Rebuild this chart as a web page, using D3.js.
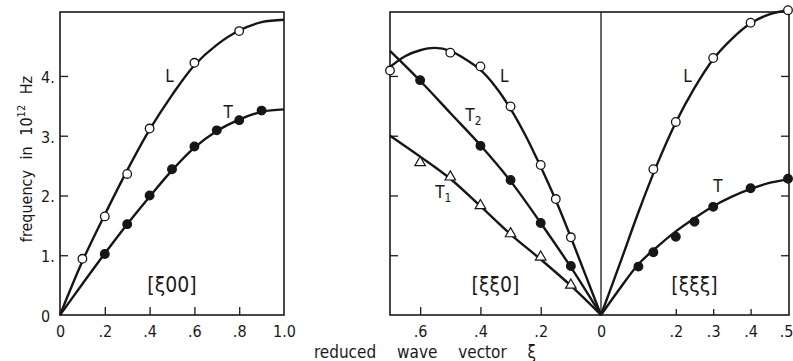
<!DOCTYPE html>
<html>
<head>
<meta charset="utf-8">
<script src="https://cdn.jsdelivr.net/npm/d3@7"></script>
<style>
  body { margin: 0; background: #fff; }
  text { font-family: "DejaVu Sans Condensed", "Liberation Sans Narrow", "Liberation Sans", sans-serif; fill: #1a1a1a; }
</style>
</head>
<body>
<svg id="canvas"></svg>
<script>
// ---- data (frequency in 10^12 Hz) ----
// [xi 0 0]
let l100Xi = [0.1, 0.2, 0.3, 0.4, 0.6, 0.8];
let l100F  = [0.94, 1.65, 2.36, 3.12, 4.22, 4.75];
let t100Xi = [0.2, 0.3, 0.4, 0.5, 0.6, 0.7, 0.8, 0.9];
let t100F  = [1.02, 1.52, 2.0, 2.44, 2.82, 3.09, 3.26, 3.42];
let l100Curve = [[0,0],[0.1,0.9],[0.2,1.68],[0.3,2.42],[0.4,3.1],[0.5,3.68],[0.6,4.18],[0.7,4.52],[0.8,4.76],[0.9,4.9],[1.0,4.94]];
let t100Curve = [[0,0],[0.1,0.52],[0.2,1.03],[0.3,1.52],[0.4,1.98],[0.5,2.42],[0.6,2.8],[0.7,3.08],[0.8,3.27],[0.9,3.4],[1.0,3.44]];

// [xi xi 0]
let l110Xi = [0.7, 0.5, 0.4, 0.3, 0.2, 0.15, 0.1];
let l110F  = [4.09, 4.39, 4.16, 3.49, 2.51, 1.94, 1.3];
let t2110Xi = [0.6, 0.4, 0.3, 0.2, 0.1];
let t2110F  = [3.93, 2.83, 2.26, 1.54, 0.82];
let t1110Xi = [0.6, 0.5, 0.4, 0.3, 0.2, 0.1];
let t1110F  = [2.55, 2.31, 1.83, 1.36, 0.97, 0.5];
let l110Curve  = [[0.7,4.15],[0.65,4.33],[0.6,4.43],[0.55,4.47],[0.5,4.42],[0.45,4.28],[0.4,4.1],[0.35,3.82],[0.3,3.45],[0.25,3.0],[0.2,2.48],[0.15,1.92],[0.1,1.3],[0.05,0.65],[0,0]];
let t2110Curve = [[0.7,4.42],[0.6,3.92],[0.5,3.38],[0.4,2.84],[0.3,2.24],[0.2,1.54],[0.1,0.8],[0,0]];
let t1110Curve = [[0.7,3.0],[0.6,2.65],[0.5,2.28],[0.4,1.82],[0.3,1.35],[0.2,0.93],[0.1,0.49],[0,0]];

// [xi xi xi]
let l111Xi = [0.14, 0.2, 0.3, 0.4, 0.5];
let l111F  = [2.44, 3.23, 4.3, 4.89, 5.1];
let t111Xi = [0.1, 0.14, 0.2, 0.25, 0.3, 0.4, 0.5];
let t111F  = [0.81, 1.05, 1.31, 1.56, 1.81, 2.12, 2.28];
let l111Curve = [[0,0],[0.05,0.85],[0.1,1.72],[0.15,2.52],[0.2,3.22],[0.25,3.8],[0.3,4.28],[0.35,4.62],[0.4,4.88],[0.45,5.03],[0.5,5.1]];
let t111Curve = [[0,0],[0.05,0.44],[0.1,0.85],[0.15,1.14],[0.2,1.4],[0.25,1.62],[0.3,1.82],[0.35,1.98],[0.4,2.11],[0.45,2.21],[0.5,2.27]];

// tick labels
let yTicks = [0, 1, 2, 3, 4];
let x100Ticks = [0, 0.2, 0.4, 0.6, 0.8, 1.0];
let x110Ticks = [0.6, 0.4, 0.2];
let x111Ticks = [0, 0.2, 0.3, 0.4, 0.5];

let width = 793;
let height = 361;
let topY = 12;
let bottomY = 315;

let svg = d3.select('#canvas')
svg.attr('width', width).attr('height', height);

let yScale = d3.scaleLinear().domain([0, 5.07]).range([bottomY, topY]);
let xA = d3.scaleLinear().domain([0, 1]).range([60, 284]);
let xB = d3.scaleLinear().domain([0.7, 0]).range([390, 601]);
let xC = d3.scaleLinear().domain([0, 0.5]).range([601, 788]);

let fmt = (d) => d === 0 ? '0' : d === 1 ? '1.0' : '.' + Math.round(d * 10);

// boxes
let boxes = [[60, 284], [390, 789]];
boxes.forEach(b => {
  svg.append('rect')
     .attr('x', b[0]).attr('y', topY)
     .attr('width', b[1] - b[0]).attr('height', bottomY - topY)
     .attr('fill', 'none').attr('stroke', '#1a1a1a').attr('stroke-width', 1.6);
});
svg.append('line').attr('x1', xB(0)).attr('x2', xB(0)).attr('y1', topY).attr('y2', bottomY)
   .attr('stroke', '#1a1a1a').attr('stroke-width', 1.3);

// inner tick marks
let tickAxis = (axis, tx, ty, size) => {
  let g = svg.append('g').attr('transform', 'translate(' + tx + ',' + ty + ')').call(axis.tickSize(size).tickFormat(''));
  g.select('.domain').remove();
  g.selectAll('line').attr('stroke', '#1a1a1a').attr('stroke-width', 1.3);
}
tickAxis(d3.axisRight(yScale).tickValues([1, 2, 3, 4]), 60, 0, 8);
tickAxis(d3.axisRight(yScale).tickValues([1, 2, 3, 4]), 390, 0, 8);
tickAxis(d3.axisLeft(yScale).tickValues([1, 2, 3, 4]), 789, 0, 8);
tickAxis(d3.axisTop(xA).tickValues([0.2, 0.4, 0.6, 0.8]), 0, bottomY, 8);
tickAxis(d3.axisTop(xB).tickValues(x110Ticks), 0, bottomY, 8);
tickAxis(d3.axisTop(xC).tickValues([0.2, 0.3, 0.4]), 0, bottomY, 6);

// tick labels
let labelAxis = (axis, tx, ty) => {
  let g = svg.append('g').attr('transform', 'translate(' + tx + ',' + ty + ')').call(axis.tickSize(0));
  g.select('.domain').remove();
  g.attr('font-family', null).attr('font-size', null);
  g.selectAll('text').attr('font-size', 16);
  return g;
}
labelAxis(d3.axisBottom(xA).tickValues(x100Ticks).tickFormat(fmt).tickPadding(11), 0, bottomY);
labelAxis(d3.axisBottom(xB).tickValues(x110Ticks).tickFormat(fmt).tickPadding(11), 0, bottomY);
labelAxis(d3.axisBottom(xC).tickValues(x111Ticks).tickFormat(fmt).tickPadding(11), 0, bottomY)
  .selectAll('text').filter(d => d === 0.5).attr('text-anchor', 'end').attr('dx', 5);
labelAxis(d3.axisLeft(yScale).tickValues(yTicks).tickFormat(d => d === 0 ? '0' : d + '.').tickPadding(8), 60, 0)
  .selectAll('text').attr('text-anchor', 'start').attr('x', -19).attr('dy', '0.4em');

// curves
let line = (xs) => d3.line().x(d => xs(d[0])).y(d => yScale(d[1])).curve(d3.curveCatmullRom.alpha(0.5));
let curves = [[l100Curve, xA], [t100Curve, xA], [l110Curve, xB], [t2110Curve, xB], [t1110Curve, xB], [l111Curve, xC], [t111Curve, xC]];
curves.forEach(c => {
  svg.append('path').datum(c[0]).attr('d', line(c[1]))
     .attr('fill', 'none').attr('stroke', '#161616').attr('stroke-width', 2.4);
});

// points
let dots = (xs, fs, xScale, filled) => {
  svg.append('g').selectAll('circle')
     .data(xs.map((x, i) => [x, fs[i]]))
     .enter()
     .append('circle')
     .attr('cx', d => xScale(d[0]))
     .attr('cy', d => yScale(d[1]))
     .attr('r', 4.3)
     .attr('fill', filled ? '#161616' : '#fff')
     .attr('stroke', '#161616')
     .attr('stroke-width', 1.3);
}
dots(l100Xi, l100F, xA, false);
dots(t100Xi, t100F, xA, true);
dots(l110Xi, l110F, xB, false);
dots(t2110Xi, t2110F, xB, true);
dots(l111Xi, l111F, xC, false);
dots(t111Xi, t111F, xC, true);

svg.append('g').selectAll('path')
   .data(t1110Xi.map((x, i) => [x, t1110F[i]]))
   .enter()
   .append('path')
   .attr('d', d3.symbol(d3.symbolTriangle, 48))
   .attr('transform', d => 'translate(' + xB(d[0]) + ',' + yScale(d[1]) + ')')
   .attr('fill', '#fff').attr('stroke', '#161616').attr('stroke-width', 1.2);

// branch labels
let label = (txt, sub, x, y, size) => {
  let t = svg.append('text').attr('x', x).attr('y', y).attr('font-size', size).text(txt);
  if (sub) t.append('tspan').attr('font-size', size * 0.7).attr('dy', 4).text(sub);
}
label('L', null, xA(0.47), yScale(3.9), 17);
label('T', null, xA(0.73), yScale(3.3), 17);
label('L', null, xB(0.335), yScale(3.9), 17);
label('T', '2', xB(0.45), yScale(3.25), 17);
label('T', '1', xB(0.55), yScale(1.95), 17);
label('L', null, xC(0.22), yScale(3.9), 17);
label('T', null, xC(0.3), yScale(2.05), 17);

// direction labels
let dirs = [['[ξ00]', xA(0.5)], ['[ξξ0]', xB(0.35)], ['[ξξξ]', xC(0.25)]];
dirs.forEach(d => {
  svg.append('text').attr('x', d[1]).attr('y', 292).attr('text-anchor', 'middle')
     .attr('font-size', 21).text(d[0]);
});

// axis titles
let yTitle = svg.append('text')
   .attr('transform', 'translate(32,159) rotate(-90)')
   .attr('text-anchor', 'middle')
   .attr('font-size', 16)
   .style('word-spacing', '6px');
yTitle.append('tspan').text('frequency in 10');
yTitle.append('tspan').attr('font-size', 11).attr('dy', -7).text('12');
yTitle.append('tspan').attr('dy', 7).text(' Hz');

svg.append('text')
   .attr('x', 425).attr('y', 358)
   .attr('text-anchor', 'middle')
   .attr('font-size', 17)
   .style('word-spacing', '16px')
   .text('reduced wave vector ξ');
</script>
</body>
</html>
